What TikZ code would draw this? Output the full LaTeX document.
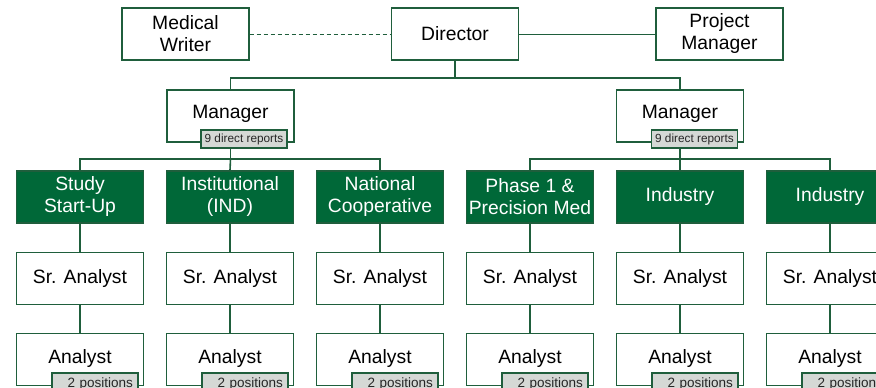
\documentclass[tikz,border=0pt]{standalone}
\usepackage{fontspec}
\setmainfont{Liberation Sans}
\definecolor{dgreen}{HTML}{006838}
\definecolor{lgreen}{HTML}{1F5E3C}
\definecolor{badgegray}{HTML}{D5D8D5}
\tikzset{
  box/.style={draw=lgreen, line width=1.4pt, fill=white, minimum width=127pt, minimum height=52pt, inner sep=0pt, align=center, font=\fontsize{19.3}{22}\selectfont, text=black},
  gbox/.style={box, fill=dgreen, draw=lgreen, text=white},
  badge/.style={draw=lgreen, line width=1.2pt, fill=badgegray, minimum width=86pt, minimum height=18pt, inner sep=0pt, font=\fontsize{11.8}{13}\selectfont, text=black!85},
  posbadge/.style={badge, font=\fontsize{13.5}{14}\selectfont, text width=76pt, align=right, text depth=0pt},
  conn/.style={draw=lgreen, line width=1.6pt},
  thinconn/.style={draw=lgreen, line width=1pt},
}
\begin{document}
\begin{tikzpicture}[x=1pt, y=-1pt]
\useasboundingbox (0,0) rectangle (876,388);
\clip (0,0) rectangle (876,388);
\fill[white] (0,0) rectangle (876,388);
% top row
\node[box] (mw) at (185.5,34) {Medical\\Writer};
\node[box] (dir) at (455,34) {Director};
\node[box] (pm) at (719.5,34) {Project\\Manager};
% managers
\node[box, text depth=8pt] (ml) at (230.5,116) {Manager};
\node[box, text depth=8pt] (mr) at (680,116) {Manager};
% green boxes
\node[gbox] (g1) at (80,197) {Study\\Start-Up};
\node[gbox] (g2) at (230,197) {Institutional\\(IND)};
\node[gbox] (g3) at (380,197) {National\\Cooperative};
\node[gbox] (g4) at (530,197) {Phase 1 \&\\Precision Med};
\node[gbox] (g5) at (680,197) {Industry};
\node[gbox] (g6) at (830,197) {Industry};
% senior analysts and analysts
\foreach \i/\x in {1/80,2/230,3/380,4/530,5/680,6/830}{
  \node[box] (s\i) at (\x,278.5) {Sr. Analyst};
  \node[box, text depth=5pt] (a\i) at (\x,359.5) {Analyst};
}
% connectors
\coordinate (top) at (455,78);
\coordinate (busl) at (230.5,159);
\coordinate (busr) at (680,159);
\draw[thinconn, dash pattern=on 4pt off 3pt] (mw.east) -- (dir.west);
\draw[thinconn] (dir.east) -- (pm.west);
\draw[conn] (dir.south) -- (top);
\draw[conn] (ml.north) |- (top) -| (mr.north);
\draw[conn] (ml.south) -- (busl);
\draw[conn] (mr.south) -- (busr);
\draw[conn] (g1.north) |- (busl) -| (g3.north);
\draw[conn] (busl) -- (g2.north);
\draw[conn] (g4.north) |- (busr) -| (g6.north);
\draw[conn] (busr) -- (g5.north);
\foreach \i in {1,...,6}{
  \draw[conn] (g\i.south) -- (s\i.north);
  \draw[conn] (s\i.south) -- (a\i.north);
}
% badges
\node[badge] (bl) at (244,139) {9 direct reports};
\node[badge] (br) at (694.5,139) {9 direct reports};
\foreach \i/\x in {1/80,2/230,3/380,4/530,5/680,6/830}{
  \node[posbadge] (p\i) at (\x+15,382) {\raisebox{-1.5pt}{2 positions}};
}
\end{tikzpicture}
\end{document}
